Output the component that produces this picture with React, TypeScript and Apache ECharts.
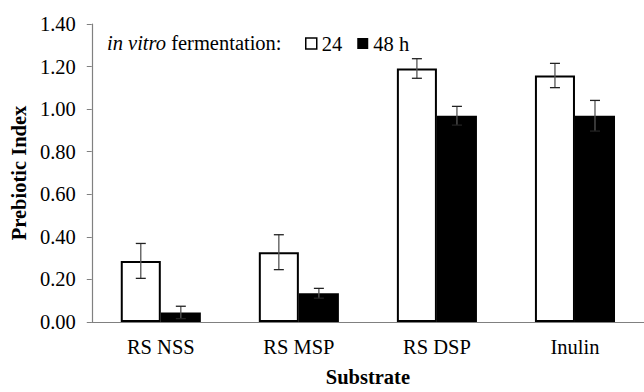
import React, { useEffect, useRef } from "react";
import * as echarts from "echarts";

const categories = ["RS NSS", "RS MSP", "RS DSP", "Inulin"];
const seriesNames = ["24", "48 h"];
const h24 = [0.287, 0.328, 1.191, 1.158];
const h24Err = [0.082, 0.082, 0.046, 0.057];
const h48 = [0.045, 0.135, 0.969, 0.969];
const h48Err = [0.029, 0.023, 0.044, 0.072];

const FONT = "Liberation Serif";
const FS = 20.5;
const BAR_FRAC = 0.29;

export default function App() {
  const ref = useRef<HTMLDivElement>(null);
  useEffect(() => {
    if (!ref.current) return;
    const chart = echarts.init(ref.current, null, { renderer: "svg" });

    const errData: number[][] = [];
    h24.forEach((v, i) => errData.push([i, v - h24Err[i], v + h24Err[i], -1]));
    h48.forEach((v, i) => errData.push([i, v - h48Err[i], v + h48Err[i], 1]));

    chart.setOption({
      animation: false,
      grid: { left: 91, right: -1, top: 24, bottom: 61.5, containLabel: false },
      legend: {
        left: 300,
        top: 28,
        itemWidth: 11,
        itemHeight: 11,
        itemGap: 15,
        icon: "rect",
        textStyle: { fontFamily: FONT, fontSize: FS, color: "#000" },
        data: [
          { name: seriesNames[0], itemStyle: { color: "#fff", borderColor: "#000", borderWidth: 1.5 } },
          { name: seriesNames[1], itemStyle: { color: "#000" } },
        ],
      },
      graphic: [
        {
          type: "text",
          left: 107,
          top: 32,
          style: {
            text: "{it|in vitro}{n| fermentation:}",
            fontFamily: FONT,
            fontSize: FS,
            fill: "#000",
            rich: {
              it: { fontStyle: "italic", fontFamily: FONT, fontSize: FS, fill: "#000" },
              n: { fontFamily: FONT, fontSize: FS, fill: "#000" },
            },
          },
        },
      ],
      xAxis: {
        type: "category",
        data: categories,
        name: "Substrate",
        nameLocation: "middle",
        nameGap: 44,
        nameTextStyle: { fontFamily: FONT, fontSize: FS, fontWeight: "bold", color: "#000" },
        axisLine: { lineStyle: { color: "#808080", width: 1.2 } },
        axisTick: { alignWithLabel: true, length: 5, lineStyle: { color: "#808080" } },
        axisLabel: { fontFamily: FONT, fontSize: FS, color: "#000", margin: 14 },
      },
      yAxis: {
        type: "value",
        min: 0,
        max: 1.4,
        interval: 0.2,
        name: "Prebiotic Index",
        nameLocation: "middle",
        nameGap: 61,
        nameTextStyle: { fontFamily: FONT, fontSize: FS, fontWeight: "bold", color: "#000" },
        axisLine: { show: true, lineStyle: { color: "#808080", width: 1.2 } },
        axisTick: { show: true, length: 5, lineStyle: { color: "#808080" } },
        splitLine: { show: false },
        axisLabel: {
          fontFamily: FONT,
          fontSize: FS,
          color: "#000",
          margin: 16,
          formatter: (v: number) => v.toFixed(2),
        },
      },
      series: [
        {
          name: seriesNames[0],
          type: "bar",
          data: h24,
          barWidth: `${BAR_FRAC * 100}%`,
          barGap: "0%",
          itemStyle: { color: "#fff", borderColor: "#000", borderWidth: 2 },
        },
        {
          name: seriesNames[1],
          type: "bar",
          data: h48,
          barWidth: `${BAR_FRAC * 100}%`,
          barGap: "0%",
          itemStyle: { color: "#000" },
        },
        {
          type: "custom",
          z: 10,
          data: errData,
          renderItem: (params: any, api: any) => {
            const i = api.value(0);
            const lo = api.coord([i, api.value(1)]);
            const hi = api.coord([i, api.value(2)]);
            const band = api.size([1, 0])[0];
            const dx = api.value(3) * band * BAR_FRAC / 2;
            const x = lo[0] + dx;
            const cap = 5;
            const stem = { stroke: "#555", lineWidth: 1.3 };
            const capStyle = { stroke: "#222", lineWidth: 1.3 };
            return {
              type: "group",
              children: [
                { type: "line", shape: { x1: x, y1: lo[1], x2: x, y2: hi[1] }, style: stem },
                { type: "line", shape: { x1: x - cap, y1: hi[1], x2: x + cap, y2: hi[1] }, style: capStyle },
                { type: "line", shape: { x1: x - cap, y1: lo[1], x2: x + cap, y2: lo[1] }, style: capStyle },
              ],
            };
          },
        },
      ],
    });
    return () => chart.dispose();
  }, []);
  return (
    <div
      ref={ref}
      style={{ position: "fixed", left: 0, top: 0, width: 644, height: 392, background: "#fff" }}
    />
  );
}
